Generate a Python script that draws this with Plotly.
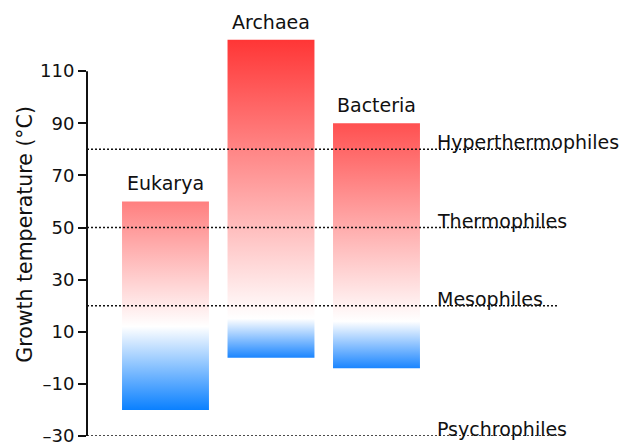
import plotly.graph_objects as go

# ---- data ----
domains = ["Eukarya", "Archaea", "Bacteria"]
low_temp = [-20, 0, -4]
high_temp = [60, 122, 90]
white_temp = [12, 15, 14]
top_colors = ["#ff7f7f", "#ff3636", "#ff5050"]
bottom_colors = ["#0a80ff", "#1a85ff", "#1a85ff"]

class_names = ["Hyperthermophiles", "Thermophiles", "Mesophiles", "Psychrophiles"]
class_temp = [80, 50, 20, -30]

tick_vals = [-30, -10, 10, 30, 50, 70, 90, 110]
tick_text = ["\u201330", "\u201310", "10", "30", "50", "70", "90", "110"]

FONT = "DejaVu Sans"
half_w = 0.412

fig = go.Figure()
for i, name in enumerate(domains):
    lo, hi, wt = low_temp[i], high_temp[i], white_temp[i]
    wf = (wt - lo) / (hi - lo)
    fig.add_trace(go.Scatter(
        x=[i - half_w, i + half_w, i + half_w, i - half_w, i - half_w],
        y=[lo, lo, hi, hi, lo],
        mode="lines", fill="toself", line=dict(width=0),
        fillgradient=dict(type="vertical", start=lo, stop=hi,
                          colorscale=[[0, bottom_colors[i]], [wf, "#ffffff"], [1, top_colors[i]]]),
        hoverinfo="skip", showlegend=False,
    ))
    fig.add_annotation(x=i, y=hi, text=name, showarrow=False, xref="x", yref="y",
                       yanchor="bottom", yshift=5, font=dict(family=FONT, size=19, color="#111"))

for name, t in zip(class_names, class_temp):
    fig.add_shape(type="line", xref="paper", x0=0, x1=1, yref="y", y0=t, y1=t,
                  line=dict(color="#111", width=1.5, dash="2px,2px"), layer="above")
    fig.add_annotation(x=0.74, xref="paper", y=t, yref="y", text=name, showarrow=False,
                       xanchor="left", yanchor="bottom", yshift=-6,
                       font=dict(family=FONT, size=19, color="#111"))

# axis line only spanning ticked range
fig.add_shape(type="line", xref="paper", x0=0, x1=0, yref="y", y0=-30, y1=110,
              line=dict(color="#111", width=2))

fig.add_annotation(text="Growth temperature (\u00b0C)", xref="paper", yref="paper",
                   x=-0.132, y=0.485, xanchor="center", yanchor="middle",
                   textangle=-90, showarrow=False,
                   font=dict(family=FONT, size=20.5, color="#111"))

fig.update_layout(
    width=629, height=443,
    margin=dict(l=79, r=80, t=11, b=15, autoexpand=False),
    paper_bgcolor="white", plot_bgcolor="white",
    xaxis=dict(visible=False, range=[-0.744, 3.711]),
    yaxis=dict(range=[-30, 130], tickvals=tick_vals, ticktext=tick_text,
               ticks="outside", ticklen=8, tickwidth=2, tickcolor="#111",
               showgrid=False, zeroline=False, showline=False, automargin=False,
               tickfont=dict(family=FONT, size=18, color="#111")),
)

fig.write_html("out.html")
